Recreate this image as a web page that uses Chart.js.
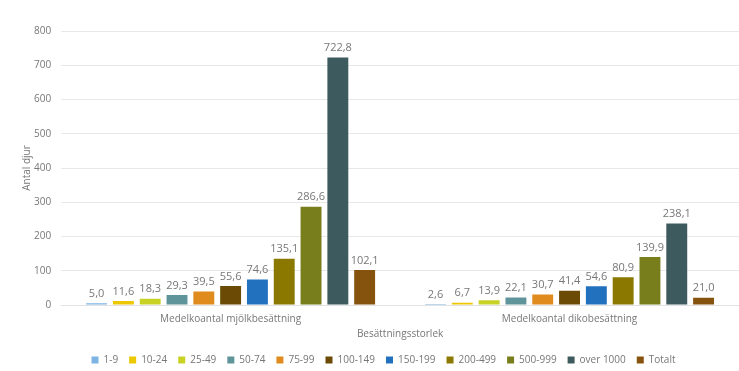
<!DOCTYPE html>
<html>
<head>
<meta charset="utf-8">
<script src="https://cdn.jsdelivr.net/npm/chart.js@4"></script>
<style>
  html, body { margin: 0; padding: 0; background: #fff; }
  #wrap { width: 739px; height: 371px; }
</style>
</head>
<body>
<div id="wrap"><canvas id="chart"></canvas></div>
<script>
const categories = ["Medelkoantal mjölkbesättning", "Medelkoantal dikobesättning"];
const sizeGroups = ["1-9", "10-24", "25-49", "50-74", "75-99", "100-149", "150-199", "200-499", "500-999", "over 1000", "Totalt"];
const milkValues = [5.0, 11.6, 18.3, 29.3, 39.5, 55.6, 74.6, 135.1, 286.6, 722.8, 102.1];
const beefValues = [2.6, 6.7, 13.9, 22.1, 30.7, 41.4, 54.6, 80.9, 139.9, 238.1, 21.0];
const colors = ["#7db4e3", "#edc800", "#c7d225", "#5f959a", "#e08b1e", "#6b4a05", "#2271be", "#8b7800", "#777e1b", "#3d5a5f", "#86530f"];

Chart.defaults.font.family = "'Open Sans', sans-serif";
Chart.defaults.color = "#777";

const valueLabels = {
  id: "valueLabels",
  afterDatasetsDraw(chart) {
    const ctx = chart.ctx;
    ctx.save();
    ctx.font = "11px 'Open Sans', sans-serif";
    ctx.fillStyle = "#777";
    ctx.textAlign = "center";
    ctx.textBaseline = "bottom";
    chart.data.datasets.forEach((ds, i) => {
      chart.getDatasetMeta(i).data.forEach((bar, j) => {
        ctx.fillText(ds.data[j].toFixed(1).replace(".", ","), bar.x, bar.y - 4);
      });
    });
    ctx.restore();
  },
};

// nudge the legend a bit right and down, like the original
const legendShift = {
  id: "legendShift",
  afterLayout(chart) {
    const lg = chart.legend;
    lg.left += 10;
    lg.right += 10;
    lg.top += 4;
    lg.bottom += 4;
  },
};

const datasets = sizeGroups.map((g, i) => ({
  label: g,
  data: [milkValues[i], beefValues[i]],
  backgroundColor: colors[i],
  borderColor: colors[i],
  borderWidth: 0,
  barPercentage: 0.78,
  categoryPercentage: 0.87,
}));

new Chart(document.getElementById("chart"), {
  type: "bar",
  data: { labels: categories, datasets: datasets },
  options: {
    responsive: true,
    maintainAspectRatio: false,
    animation: false,
    layout: { padding: { top: 31, left: 8, right: 0, bottom: 0 } },
    plugins: {
      legend: {
        position: "bottom",
        labels: {
          boxWidth: 7,
          boxHeight: 7,
          padding: 11,
          font: { size: 10 },
          color: "#777",
        },
      },
      tooltip: { enabled: false },
    },
    scales: {
      x: {
        grid: { display: false },
        border: { color: "#e2e2e2" },
        ticks: { font: { size: 10 }, color: "#777", padding: 0 },
        title: { display: true, text: "Besättningsstorlek", font: { size: 10 }, color: "#777", padding: { top: 3, bottom: 0 } },
      },
      y: {
        min: 0,
        max: 800,
        ticks: { stepSize: 100, font: { size: 10 }, color: "#777", padding: 10 },
        grid: { color: "#e8e8e8", drawTicks: false },
        border: { display: false },
        title: { display: true, text: "Antal djur", font: { size: 10 }, color: "#777", padding: { top: 13, bottom: -9 } },
      },
    },
  },
  plugins: [valueLabels, legendShift],
});
</script>
</body>
</html>
